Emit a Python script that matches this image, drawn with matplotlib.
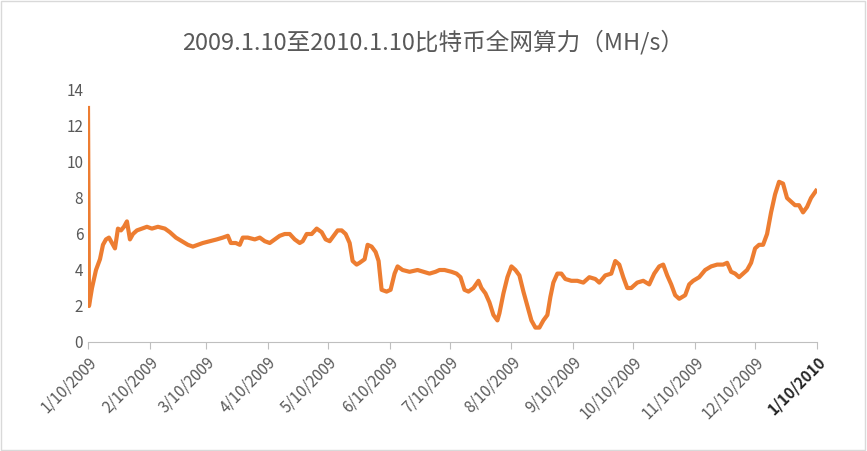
import numpy as np
import pandas as pd
import matplotlib.pyplot as plt

plt.rcParams['font.family'] = ['Noto Sans CJK SC', 'DejaVu Sans']

# days after 2009-01-10 and hash rate (MH/s)
days = [0, 0.5, 2, 4, 6, 7.5, 9, 10.5, 12, 13.5, 15, 16.5, 18, 19.5, 21, 22.5, 24.5, 27, 29.5, 32,
        35, 38.5, 41, 44, 47, 50, 52.5, 55, 57.5, 61, 64.5, 67.5, 70, 71.5, 74, 76, 77.5, 80,
        83.5, 86, 88.5, 91, 93.5, 96, 98.5, 101, 103.5, 106, 107.5, 109.5, 112, 114.5, 117, 119,
        121, 123, 125, 127, 129, 131, 132.5, 134.5, 136, 138.5, 140, 142, 144, 145.5, 147, 149.5,
        151.5, 153.5, 155, 157.5, 161, 165, 168, 171, 174, 176, 178.5, 182, 184.5, 186.5, 188.5,
        190.5, 193, 195.5, 197, 199, 201, 203, 205, 206, 208, 210, 212, 214, 216, 218, 220, 222,
        224, 226, 228, 230, 231.5, 233, 235, 237, 239, 242, 245, 248, 251, 254, 256, 259, 262,
        264, 266, 268, 270, 272, 275, 278, 281, 283.5, 286, 288, 290, 292, 294, 296, 299, 301,
        303, 306, 309, 312, 315, 318, 320, 322, 324, 326, 328, 330, 332, 334, 336, 338, 340, 342,
        344, 346, 348, 350, 352, 354, 356, 358, 360, 362, 364.5]
vals = [13.0, 2.0, 3.0, 4.0, 4.6, 5.4, 5.7, 5.8, 5.5, 5.2, 6.3, 6.2, 6.4, 6.7, 5.7, 6.0, 6.2, 6.3,
        6.4, 6.3, 6.4, 6.3, 6.1, 5.8, 5.6, 5.4, 5.3, 5.4, 5.5, 5.6, 5.7, 5.8, 5.9, 5.5, 5.5, 5.4,
        5.8, 5.8, 5.7, 5.8, 5.6, 5.5, 5.7, 5.9, 6.0, 6.0, 5.7, 5.5, 5.6, 6.0, 6.0, 6.3, 6.1, 5.7,
        5.6, 5.9, 6.2, 6.2, 6.0, 5.5, 4.5, 4.3, 4.4, 4.6, 5.4, 5.3, 5.0, 4.5, 2.9, 2.8, 2.9, 3.8,
        4.2, 4.0, 3.9, 4.0, 3.9, 3.8, 3.9, 4.0, 4.0, 3.9, 3.8, 3.6, 2.9, 2.8, 3.0, 3.4, 3.0, 2.7,
        2.2, 1.5, 1.2, 1.6, 2.7, 3.6, 4.2, 4.0, 3.7, 2.8, 2.0, 1.2, 0.8, 0.8, 1.2, 1.5, 2.5, 3.3,
        3.8, 3.8, 3.5, 3.4, 3.4, 3.3, 3.6, 3.5, 3.3, 3.7, 3.8, 4.5, 4.3, 3.6, 3.0, 3.0, 3.3, 3.4,
        3.2, 3.8, 4.2, 4.3, 3.7, 3.2, 2.6, 2.4, 2.6, 3.2, 3.4, 3.6, 4.0, 4.2, 4.3, 4.3, 4.4, 3.9,
        3.8, 3.6, 3.8, 4.0, 4.4, 5.2, 5.4, 5.4, 6.0, 7.2, 8.2, 8.9, 8.8, 8.0, 7.8, 7.6, 7.6, 7.2,
        7.5, 8.0, 8.4]
n = min(len(days), len(vals))
dates = pd.Timestamp('2009-01-10') + pd.to_timedelta(np.array(days[:n]), unit='D')
vals = vals[:n]

tick_dates = pd.date_range('2009-01-10', periods=13, freq=pd.DateOffset(months=1))
tick_labels = [f"{d.month}/{d.day}/{d.year}" for d in tick_dates]

fig = plt.figure(figsize=(8.67, 4.51), dpi=100)
ax = fig.add_axes([88 / 867, 1 - 342 / 451, (817 - 88) / 867, (342 - 90) / 451])
ax.plot(dates, vals, color='#ED7D31', linewidth=3)
ax.set_xlim(tick_dates[0], tick_dates[-1])
ax.set_ylim(0, 14)
ax.set_yticks(range(0, 15, 2))
ax.set_xticks(tick_dates)
ax.set_xticklabels(tick_labels, rotation=45, ha='right', rotation_mode='anchor')
ax.tick_params(colors='#595959', labelsize=11, length=0)
ax.tick_params(axis='x', length=5, color='#BFBFBF')
for s in ['top', 'right', 'left']:
    ax.spines[s].set_visible(False)
ax.spines['bottom'].set_color('#BFBFBF')
ax.xaxis.get_ticklabels()[-1].set_color('#262626')
ax.xaxis.get_ticklabels()[-1].set_fontweight('bold')
fig.text(0.5, 1 - 42 / 451, '2009.1.10至2010.1.10比特币全网算力（MH/s）',
         ha='center', va='center', fontsize=17, color='#595959')
fig.patches.append(plt.Rectangle((0.001, 0.002), 0.997, 0.996, transform=fig.transFigure,
                                 fill=False, edgecolor='#D9D9D9', linewidth=1))
fig.savefig('out.png', dpi=100)
